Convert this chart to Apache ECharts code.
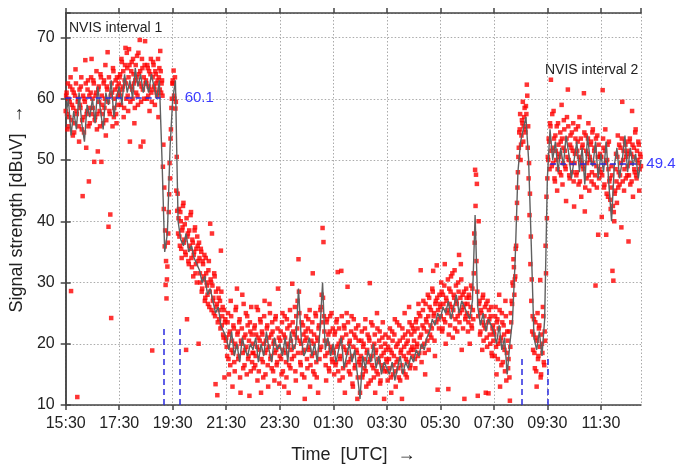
<!DOCTYPE html>
<html><head><meta charset="utf-8">
<script src="https://cdn.jsdelivr.net/npm/echarts@6/dist/echarts.min.js"></script>
<style>html,body{margin:0;padding:0;background:#fff}#c{width:681px;height:469px}</style>
</head><body><div id="c"></div>
<script>
// x values are hours after 15:30 UTC
const tickLabels = ['15:30','17:30','19:30','21:30','23:30','01:30','03:30','05:30','07:30','09:30','11:30'];
const redStep = 1/30; // 2-minute samples
const redOffsetB = 1/60; // interleaved samples, offset by 1 minute
const redRows = [
 [58,61,55,60,57,62,28.6,59,54,61,56,64.8,58,11.3,60,53,59,62,55,44.1,57,60,66.3,52,58,63,46.5,56,61,66.5],
 [60,63,49.7,57,61,55,51.4,62,58,64,49.7,59,56,63,60,54,62,67.6,39.1,58,41.1,24.2,61,65,57,60,63,56,62,59],
 [61,64,59,66,62,57,63,68.3,60,65,58,68.1,53,62,66,60,64,56,63,61,67,59,64,69.6,52.2,62,65,53,60,69.4],
 [63,60,65,62,58,64,61,18.9,66,62,59,64,61,63,57,65,67.8,61,63,48.9,42,35.9,29.6,27.4,32.6,38,44.4,47,55,60],
 [63,64.6,60,58.4,45,41.7,38,42,36,40,34,39,43,37,35,19,24,38,33,36,41,34,37,31,35,39,33,30,36,20],
 [34,30,35,29,33,31,27,34,30,28,32,26,39.6,30,38,27,25,31,13.4,26,11.6,29,24,27,35.2,23,26,21,14.5,24],
 [21,18,25,15,22,27,19,13,23,17,20,26,29,22,18,24,12,20,28,16,21,19,25,15,23,18,11.5,22,26,17],
 [20,16,23,18,26,14,21,19,24,12,22,17,20,27,15,19,23,13,21,25,18,16,22,20,14,24,19,17,29,21],
 [18,22,15,25,19,13,21,17,24,20,12,23,16,19,29.8,22,18,26,14,21,27,33.8,25,17,20,15,23,19,11,22],
 [21,16,24,19,13,22,18,31.5,20,15,25,17,21,12,23,19,26,28,38.9,36.6,22,18,14,24,20,16,22,19,25,17],
 [19,15,22,17,24,31.7,20,14,18,31.9,21,16,23,12,19,25,29.3,17,20,15,22,18,13,24,16,21,19,11,23,17],
 [12,18,22,15,20,16,24,13,19,17,21,29.9,14,18,23,16,20,12,19,25,15,17,22,14,18,21,16,11,20,19],
 [17,14,21,16,19,12,22,15,18,24,13,17,20,16,23,14,19,11,21,18,25,15,20,17,22,26,16,19,23,18],
 [19,22,16,24,20,18,25,21,32,17,23,27,20,15,24,22,28,19,26,23,21,29,31.9,25,18,27,32.8,12.5,24,28],
 [26,30,22,28,24,33,20,27,25,12.6,29,23,31,26,21,28,32,24,27,22,30,34.5,25,33,19,28,26,11,24,29],
 [25,22,28,20,26,23,29,24,38,48.4,47.6,46.1,11.5,40,27,22,25,19,28,23,26,12,21,27,11.9,24,20,26,18,23],
 [22,18,26,15,24,20,28,13,21,25,17,23,19,27,14,22,16,22,10.7,25,27,30,33.8,28,31,36,43,48,52,55],
 [50,54,56,53,57,55,58.8,62.3,52,47,41,33,27,22,19,24,16,21,13,25,18,23,30.4,15,20,26,17,22,36,44],
 [47,50,53,56,63.1,49,52,58,47,54,50,45,56,51,48,53,59,46,52,55,49,43.3,57,61.5,50,47,54,52,48,56],
 [42.4,51,55,48,53,46,57,50,44,52,49,60.9,41.6,54,47,51,56,45,50,53,48,55,46,52,29.5,49,54,37.8,47,51],
 [48,40.7,61.4,52,46,55,37.8,50,44,53,47,42,49,31.9,30.3,40,45,51,43,54,48,46,52,39,59.5,50,45,53,47,51],
 [49,36.7,53,46,51,58,44,52,48,55,47,50,53,45,51,49]
];
const redRowsB = [
 [60.5,57.5,62.5,55.5,59.5,63.5,56.5,61.5,58.5,54.5,60.5,62.5,57.5,59.5,55.5,61.5,58.5,63.5,56.5,60.5,54.5,59.5,62.5,57.5,61.5,55.5,60.5,58.5,63.5,57.5],
 [58.5,62.5,56.5,60.5,64.5,57.5,61.5,59.5,55.5,63.5,60.5,57.5,62.5,58.5,65.5,56.5,61.5,59.5,63.5,57.5,60.5,62.5,55.5,64.5,58.5,61.5,57.5,63.5,60.5,62.5],
 [63.5,60.5,66.5,61.5,64.5,58.5,65.5,62.5,67.5,60.5,63.5,65.5,59.5,64.5,61.5,66.5,62.5,58.5,65.5,63.5,60.5,67.5,62.5,64.5,59.5,66.5,61.5,63.5,65.5,62.5],
 [62.5,65.5,60.5,64.5,61.5,66.5,59.5,63.5,65.5,61.5,64.5,62.5,60.5,66.5,63.5,61.5,64.5,62.5,60.5,52.5,45.5,38.5,33.5,30.5,36.5,41.5,49.5,53.5,58.5,62.5],
 [62.5,60.5,63.5,59.5,50.5,44.5,40.5,37.5,41.5,35.5,38.5,42.5,36.5,39.5,34.5,40.5,37.5,33.5,38.5,35.5,41.5,32.5,36.5,34.5,38.5,31.5,35.5,37.5,33.5,36.5],
 [31.5,35.5,28.5,33.5,30.5,34.5,27.5,31.5,29.5,26.5,33.5,28.5,30.5,25.5,29.5,27.5,31.5,24.5,28.5,26.5,23.5,27.5,25.5,22.5,28.5,24.5,21.5,25.5,23.5,20.5],
 [19.5,23.5,17.5,21.5,16.5,24.5,20.5,18.5,22.5,15.5,25.5,19.5,21.5,17.5,23.5,14.5,20.5,22.5,18.5,26.5,16.5,21.5,19.5,24.5,17.5,20.5,23.5,15.5,21.5,18.5],
 [18.5,22.5,16.5,21.5,19.5,25.5,15.5,20.5,23.5,17.5,21.5,14.5,24.5,18.5,20.5,22.5,16.5,19.5,26.5,17.5,21.5,23.5,15.5,20.5,18.5,24.5,16.5,22.5,19.5,13.5],
 [20.5,17.5,23.5,15.5,21.5,24.5,18.5,14.5,22.5,19.5,16.5,25.5,20.5,17.5,23.5,19.5,21.5,15.5,24.5,22.5,18.5,28.5,20.5,16.5,23.5,18.5,21.5,14.5,20.5,24.5],
 [17.5,22.5,19.5,25.5,16.5,20.5,23.5,15.5,21.5,18.5,24.5,14.5,20.5,22.5,17.5,25.5,19.5,23.5,27.5,24.5,20.5,16.5,23.5,18.5,21.5,15.5,24.5,19.5,17.5,22.5],
 [18.5,21.5,16.5,23.5,19.5,15.5,22.5,17.5,20.5,24.5,14.5,19.5,22.5,16.5,21.5,18.5,23.5,15.5,20.5,17.5,24.5,13.5,19.5,21.5,16.5,22.5,18.5,14.5,20.5,17.5],
 [16.5,20.5,14.5,19.5,17.5,22.5,15.5,18.5,21.5,13.5,20.5,17.5,23.5,16.5,19.5,14.5,21.5,18.5,15.5,22.5,17.5,20.5,13.5,19.5,16.5,23.5,18.5,15.5,21.5,17.5],
 [15.5,19.5,17.5,22.5,14.5,18.5,20.5,16.5,21.5,15.5,19.5,23.5,17.5,14.5,20.5,18.5,16.5,22.5,15.5,19.5,21.5,17.5,14.5,20.5,18.5,23.5,16.5,21.5,19.5,22.5],
 [20.5,17.5,23.5,19.5,22.5,26.5,18.5,24.5,21.5,19.5,25.5,22.5,18.5,26.5,23.5,20.5,24.5,27.5,21.5,25.5,22.5,28.5,24.5,20.5,26.5,23.5,27.5,25.5,22.5,26.5],
 [24.5,28.5,22.5,26.5,29.5,23.5,27.5,25.5,30.5,21.5,26.5,28.5,24.5,31.5,25.5,27.5,22.5,29.5,26.5,24.5,28.5,23.5,27.5,30.5,25.5,22.5,28.5,26.5,24.5,27.5],
 [26.5,23.5,27.5,24.5,29.5,22.5,25.5,31.5,36.5,42.5,33.5,28.5,24.5,26.5,21.5,25.5,23.5,27.5,20.5,24.5,22.5,26.5,19.5,23.5,25.5,21.5,24.5,18.5,22.5,20.5],
 [21.5,24.5,19.5,23.5,17.5,22.5,25.5,20.5,16.5,23.5,19.5,21.5,15.5,24.5,18.5,20.5,17.5,14.5,19.5,23.5,26.5,29.5,32.5,30.5,35.5,40.5,45.5,50.5,54.5,57.5],
 [52.5,56.5,59.5,55.5,58.5,54.5,57.5,60.5,55.5,49.5,44.5,37.5,30.5,24.5,21.5,18.5,23.5,15.5,20.5,17.5,22.5,19.5,14.5,21.5,18.5,24.5,16.5,20.5,31.5,40.5],
 [50.5,53.5,48.5,55.5,51.5,57.5,49.5,53.5,46.5,51.5,55.5,48.5,52.5,50.5,54.5,47.5,53.5,49.5,56.5,51.5,48.5,53.5,50.5,55.5,47.5,52.5,49.5,54.5,51.5,46.5],
 [49.5,53.5,47.5,51.5,55.5,50.5,46.5,53.5,49.5,52.5,48.5,54.5,45.5,51.5,49.5,53.5,47.5,50.5,52.5,46.5,54.5,49.5,51.5,47.5,53.5,45.5,50.5,52.5,48.5,50.5],
 [50.5,47.5,53.5,45.5,51.5,49.5,44.5,52.5,48.5,46.5,43.5,45.5,47.5,42.5,41.5,44.5,48.5,46.5,50.5,45.5,52.5,47.5,49.5,53.5,46.5,51.5,48.5,52.5,50.5,47.5],
 [51.5,47.5,53.5,49.5,46.5,52.5,50.5,48.5,54.5,47.5,51.5,49.5,52.5,48.5,50.5,53.5]
];
const lineStep = 0.1; // 6-minute trace
const lineRows = [
 [57,60,54,58,55,61,56,53,59,57],
 [60,56,62,58,55,61,59,63,57,60],
 [62,59,64,61,63,60,65,62,64,61],
 [63,61,64,62,60,63,50,35,38,52],
 [60,63,40,37,36,38,35,36,34,33],
 [32,30,31,28,29,27,25,26,23,22],
 [21,19,22,18,20,17,21,19,18,20],
 [19,21,17,20,18,22,19,17,21,19],
 [20,18,21,17,22,19,20,29,21,18],
 [19,21,18,20,17,22,30,19,21,18],
 [20,17,19,21,16,18,20,17,19,15],
 [11,18,16,19,17,20,16,18,15,17],
 [16,15,17,14,16,18,15,17,16,18],
 [17,19,18,20,19,21,22,24,23,25],
 [24,26,25,27,24,26,28,25,27,26],
 [25,24,27,41,26,23,25,22,24,23],
 [22,20,23,19,21,15,20,24,34,48],
 [53,55,57,50,36,21,19,22,18,24],
 [47,55,50,53,48,52,49,54,51,47],
 [50,53,48,52,46,54,50,49,53,47],
 [51,48,53,46,40,49,52,47,50,54],
 [48,52,49,51,47,50]
];
const meanValues = [60.1, 49.4];
const meanSpans = [[0, 3.55], [18.1, 21.4]];
const markerTimes = [3.66, 4.25, 17.05, 18.0];
const markerTops = [22.9, 22.9, 18, 18];
const intervalNames = ['NVIS interval 1', 'NVIS interval 2'];

const redData = [];
redRows.forEach((row, k) => row.forEach((v, j) => redData.push([k + j * redStep, v])));
redRowsB.forEach((row, k) => row.forEach((v, j) => redData.push([k + j * redStep + redOffsetB, v])));
const lineData = [];
lineRows.forEach((row, k) => row.forEach((v, j) => lineData.push([k + j * lineStep, v])));

const FONT = "'Liberation Sans', Arial, sans-serif";
const blue = '#2a2ae0';
const chart = echarts.init(document.getElementById('c'), null, {renderer: 'canvas'});
const axisLine = {show: true, lineStyle: {color: '#444', width: 1.5}};
const option = {
  animation: false,
  backgroundColor: '#fff',
  grid: {left: 65, right: 40, top: 13, bottom: 53},
  xAxis: [{
    type: 'value', min: 0, max: 21.5, interval: 2,
    axisLine, axisTick: {show: true, length: 5, lineStyle: {color: '#444', width: 1.5}},
    axisLabel: {fontFamily: FONT, fontSize: 16, color: '#222', margin: 11,
      formatter: v => (Math.abs(v / 2 - Math.round(v / 2)) < 1e-6 ? (tickLabels[Math.round(v / 2)] || '') : ''),
      showMaxLabel: false},
    splitLine: {show: true, lineStyle: {color: '#aaa', type: [1.5, 2], width: 1}},
    name: 'Time  [UTC]  \u2192', nameLocation: 'middle', nameGap: 41,
    nameTextStyle: {fontFamily: FONT, fontSize: 18, color: '#222'}
  }, {
    type: 'value', min: 0, max: 21.5, interval: 2, position: 'top',
    axisLine, axisTick: {show: true, length: 5, lineStyle: {color: '#444', width: 1.5}},
    axisLabel: {show: false}, splitLine: {show: false}
  }],
  yAxis: [{
    type: 'value', min: 10, max: 74, interval: 10,
    axisLine, axisTick: {show: true, length: 5, lineStyle: {color: '#444', width: 1.5}},
    axisLabel: {fontFamily: FONT, fontSize: 16, color: '#222', margin: 11,
      formatter: v => (v % 10 === 0 ? String(v) : ''), showMaxLabel: false},
    splitLine: {show: true, lineStyle: {color: '#aaa', type: [1.5, 2], width: 1}},
    name: 'Signal strength [dBuV]  \u2192', nameLocation: 'middle', nameGap: 35,
    nameTextStyle: {fontFamily: FONT, fontSize: 18, color: '#222'}
  }, {
    type: 'value', min: 10, max: 74, interval: 10, position: 'right',
    axisLine, axisTick: {show: true, length: 5, lineStyle: {color: '#444', width: 1.5}},
    axisLabel: {show: false}, splitLine: {show: false}
  }],
  series: [{
    type: 'scatter', data: redData, symbol: 'rect', symbolSize: 4.5,
    itemStyle: {color: '#ff0000'}, z: 2, clip: true, large: false
  }, {
    type: 'line', data: lineData, showSymbol: false, symbol: 'none',
    lineStyle: {color: '#606060', width: 1.4}, z: 3, clip: true,
    markLine: {
      silent: true, symbol: 'none', animation: false,
      lineStyle: {color: blue, type: [6, 4], width: 1.5},
      data: meanValues.map((m, i) => [
        {coord: [meanSpans[i][0], m], label: {show: true, position: 'end', formatter: String(m), distance: i === 0 ? 24 : 8,
          color: '#3b3bff', fontFamily: FONT, fontSize: 15}},
        {coord: [meanSpans[i][1], m]}
      ]).concat(markerTimes.map((t, i) => [
        {coord: [t, 10], label: {show: false}},
        {coord: [t, markerTops[i]]}
      ]))
    }
  }],
  graphic: [
    {type: 'text', left: 69, top: 21, style: {text: intervalNames[0], font: '14px ' + FONT, fill: '#222'}},
    {type: 'text', left: 545, top: 63, style: {text: intervalNames[1], font: '14px ' + FONT, fill: '#222'}}
  ]
};
chart.setOption(option);
</script>
</body></html>
